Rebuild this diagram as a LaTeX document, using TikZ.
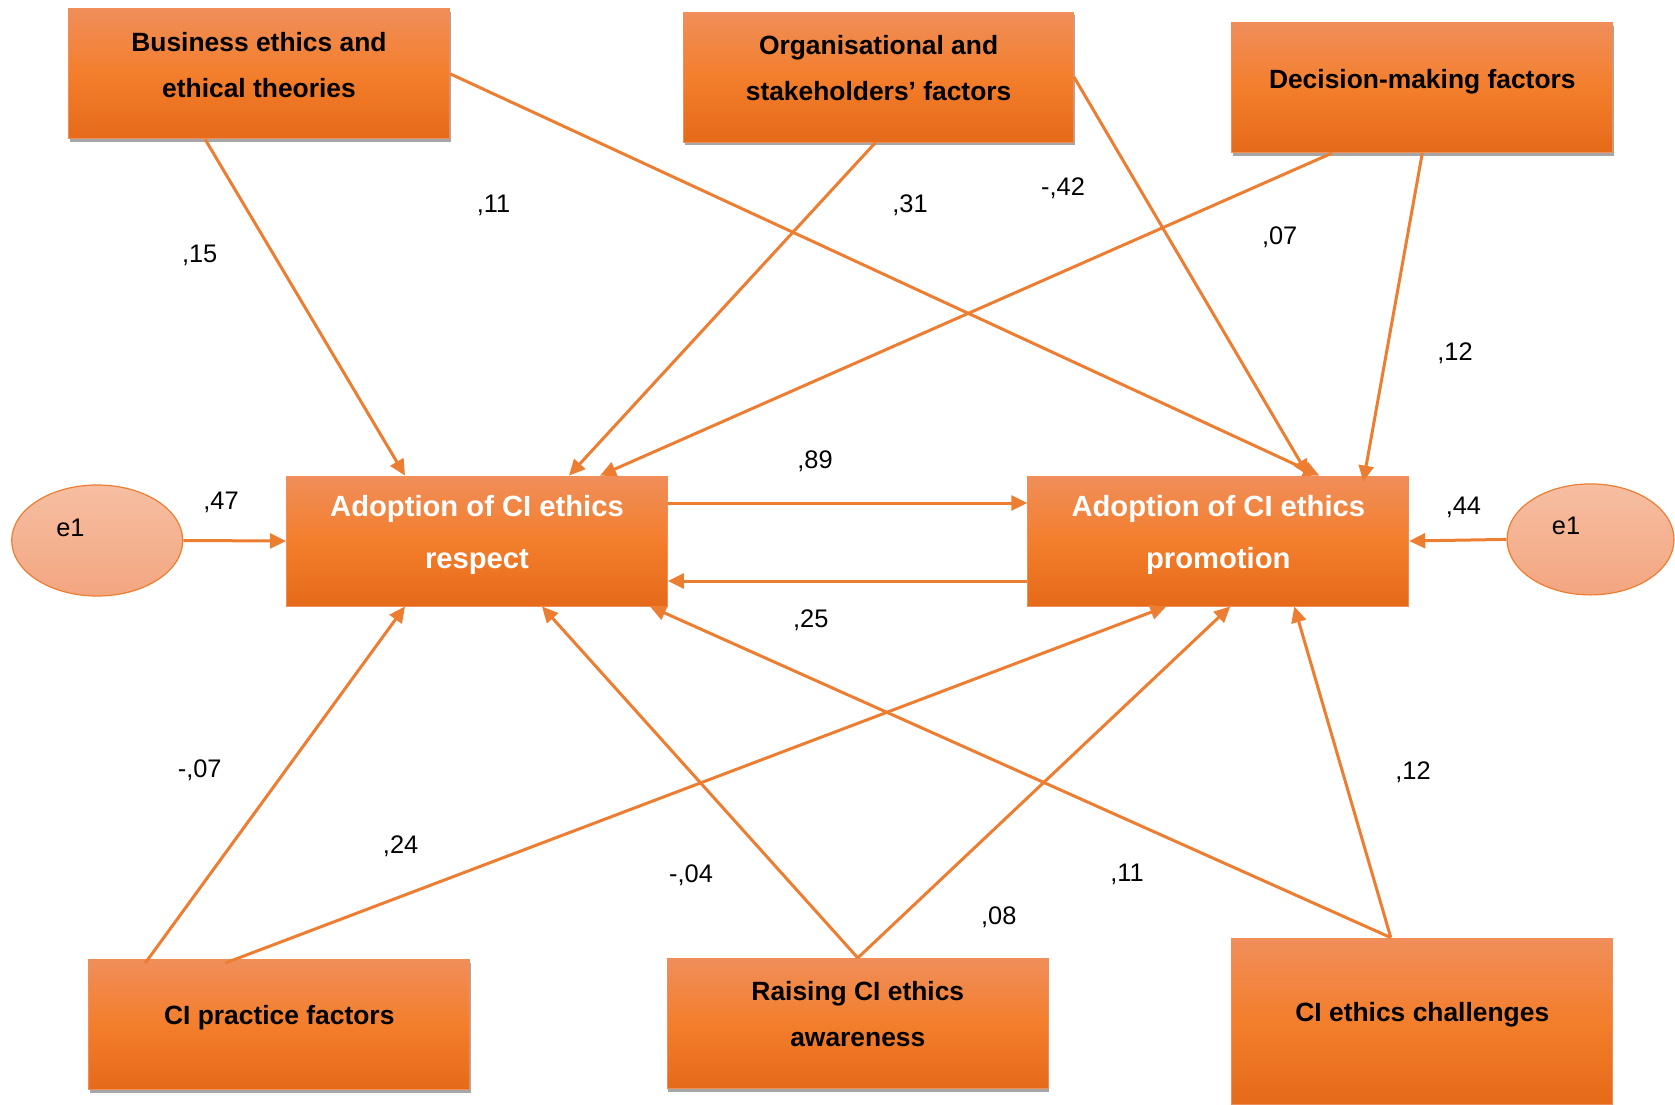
\documentclass[tikz,border=0pt]{standalone}
\usepackage{fontspec}
\setmainfont{Liberation Sans}
\usepackage{tikz}
\usetikzlibrary{arrows.meta, positioning, calc, shadows, shapes.geometric}
\usepackage{xcolor}
\definecolor{accent}{RGB}{237,125,49}
\definecolor{boxtop}{RGB}{240,142,90}
\definecolor{boxmid}{RGB}{243,126,44}
\definecolor{boxbot}{RGB}{229,106,26}
\definecolor{elltop}{RGB}{246,190,162}
\definecolor{ellbot}{RGB}{243,166,128}
\newcommand{\lowdepth}{\rule[-9pt]{0pt}{0pt}}

\begin{document}
\begin{tikzpicture}[
  x=0.5pt, y=-0.5pt,
  box/.style={rectangle, draw=boxtop, line width=0.4pt,
              top color=boxtop, bottom color=boxbot, middle color=boxmid,
              minimum width=190.5pt, minimum height=65pt, inner sep=0pt,
              align=center, font=\fontsize{13.2}{23}\selectfont\bfseries},
  factor/.style={box, drop shadow={shadow xshift=0.5pt, shadow yshift=-1.6pt,
              fill=black!35, opacity=1}},
  outcome/.style={box, text=white, font=\fontsize{14.6}{26}\selectfont\bfseries},
  errvar/.style={ellipse, draw=accent, line width=0.6pt,
              top color=elltop, bottom color=ellbot,
              minimum width=85.5pt, minimum height=55.5pt},
  coef/.style={inner sep=0pt, font=\fontsize{12.7}{15}\selectfont},
  link/.style={draw=accent, line width=1.5pt, -{Triangle[length=8pt, width=7.4pt]}}
]
  \useasboundingbox (0,0) rectangle (1675,1104);

  % top row
  \node[factor] (biz) at (259,73.7) {Business ethics and\\ethical theories\lowdepth};
  \node[factor, minimum width=195pt] (org) at (878.6,77) {Organisational and\\stakeholders' factors\lowdepth};
  \node[factor] (dec) at (1422.3,87.6) {Decision-making factors\lowdepth};

  % outcomes and errors
  \node[outcome] (resp) at (477,541) {Adoption of CI ethics\\respect\lowdepth};
  \node[outcome] (prom) at (1218.3,541) {Adoption of CI ethics\\promotion\lowdepth};
  \node[errvar] (errL) at (97.2,540.5) {};
  \node[errvar, minimum width=83.5pt] (errR) at (1590.5,539.4) {};
  \node[coef] (errLtxt) at ($(errL.center)+(-26.7,-12.8)$) {e1};
  \node[coef] (errRtxt) at ($(errR.center)+(-24.5,-13.8)$) {e1};

  % bottom row
  \node[factor] (prac) at (279.3,1024.4) {CI practice factors\lowdepth};
  \node[factor] (rais) at (857.8,1023.3) {Raising CI ethics\\awareness\lowdepth};
  \node[box, minimum height=83pt] (chal) at (1422.3,1021) {CI ethics challenges\lowdepth};

  % paths
  \draw[link] ($(biz.south)+(-54,0)$) -- ($(resp.north)+(-72,0)$);
  \draw[link] (biz.east) -- ($(prom.north)+(101,0)$);
  \draw[link] ($(org.south)+(-3,0)$) -- ($(resp.north)+(92,0)$);
  \draw[link] (org.east) -- ($(prom.north)+(90,0)$);
  \draw[link] ($(dec.south)+(-90,0)$) -- ($(resp.north)+(123,0)$);
  \draw[link] (dec.south) -- ($(prom.north)+(145,6)$);
  \draw[link] (errL.east) -- (resp.west);
  \draw[link] (errR.west) -- (prom.east);
  \draw[link] ($(resp.east)+(0,-38)$) -- ($(prom.west)+(0,-38)$);
  \draw[link] ($(prom.west)+(0,40)$) -- ($(resp.east)+(0,40)$);
  \draw[link] ($(prac.north)+(-134,4)$) -- ($(resp.south)+(-72,0)$);
  \draw[link] ($(prac.north)+(-54,4)$) -- ($(prom.south)+(-52,0)$);
  \draw[link] (rais.north) -- ($(resp.south)+(65,0)$);
  \draw[link] (rais.north) -- ($(prom.south)+(12,0)$);
  \draw[link] ($(chal.north)+(-31.5,0)$) -- ($(resp.south)+(173,0)$);
  \draw[link] ($(chal.north)+(-31.5,0)$) -- ($(prom.south)+(76,0)$);

  % coefficients
  \node[coef] (c15) at (199.7,255) {,15};
  \node[coef] (c11a) at (493.5,205) {,11};
  \node[coef] (c31) at (910,205) {,31};
  \node[coef] (c42) at (1063,188) {-,42};
  \node[coef] (c07a) at (1279.7,237) {,07};
  \node[coef] (c12a) at (1455,353.5) {,12};
  \node[coef] (c47) at (221,502) {,47};
  \node[coef] (c89) at (815,461) {,89};
  \node[coef] (c25) at (810.8,620.6) {,25};
  \node[coef] (c44) at (1463.4,507) {,44};
  \node[coef] (c07b) at (199.7,770) {-,07};
  \node[coef] (c24) at (400.6,846) {,24};
  \node[coef] (c04) at (691,874.8) {-,04};
  \node[coef] (c08) at (998.8,917.5) {,08};
  \node[coef] (c11b) at (1127,874.8) {,11};
  \node[coef] (c12b) at (1413,772) {,12};
\end{tikzpicture}
\end{document}
